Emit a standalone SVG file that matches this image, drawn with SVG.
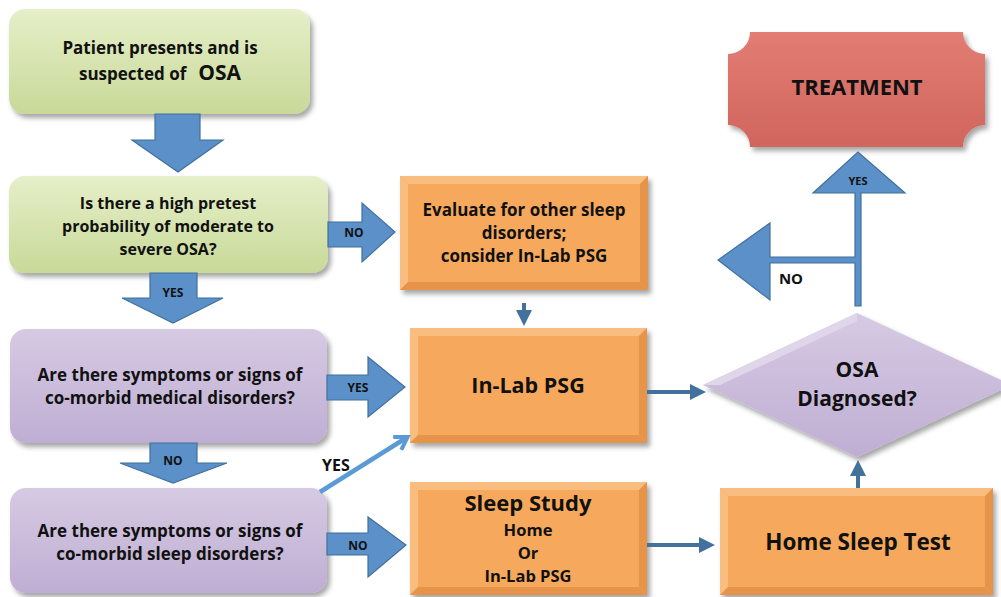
<svg xmlns="http://www.w3.org/2000/svg" width="1001" height="597" viewBox="0 0 1001 597">
<defs>
<linearGradient id="gGreen" x1="0" y1="0" x2="0" y2="1"><stop offset="0" stop-color="#e6efc9"/><stop offset="1" stop-color="#c8d998"/></linearGradient>
<linearGradient id="gPurple" x1="0" y1="0" x2="0" y2="1"><stop offset="0" stop-color="#d6cae3"/><stop offset="1" stop-color="#bfaed3"/></linearGradient>
<linearGradient id="gRed" x1="0" y1="0" x2="0" y2="1"><stop offset="0" stop-color="#e27d74"/><stop offset="1" stop-color="#d0655c"/></linearGradient>
<filter id="sh" x="-10%" y="-10%" width="125%" height="130%"><feDropShadow dx="3" dy="4" stdDeviation="2.5" flood-color="#000" flood-opacity="0.35"/></filter>
<marker id="ah" markerWidth="4" markerHeight="4" refX="2" refY="2" orient="auto" markerUnits="strokeWidth"><path d="M0,0 L4,2 L0,4 Z" fill="#41719c"/></marker>
<marker id="ahl" markerWidth="4" markerHeight="4" refX="2.6" refY="2" orient="auto" markerUnits="strokeWidth"><path d="M0.3,0.3 L3,2 L0.3,3.7" fill="none" stroke="#5b9bd5" stroke-width="0.9"/></marker>
</defs>
<style>
text{font-family:"Open Sans","Liberation Sans",Arial,sans-serif;font-weight:bold;fill:#111;text-anchor:middle}
.t17{font-size:16px}
.lbl{font-size:12px}
.green{fill:url(#gGreen);filter:url(#sh)}
.purple{fill:url(#gPurple);filter:url(#sh)}
.orange{fill:#f6a95c;filter:url(#sh)}
.bvL{fill:#f9bd80}
.bvD{fill:#e6944a}
.barrow{fill:#5b90c9;stroke:#41719c;stroke-width:1.2}
.conn{stroke:#41719c;stroke-width:4;fill:none}
.tline{fill:#5b90c9;stroke:#41719c;stroke-width:1.2}
</style>

<g id="node-patient">
<rect class="green" x="9" y="9" width="301" height="105" rx="16"/>
<text x="160" y="54" font-size="17">Patient presents and is</text>
<text x="160" y="80" font-size="17">suspected of<tspan font-size="21" dx="12">OSA</tspan></text>
</g>

<g id="node-pretest">
<rect class="green" x="9" y="176" width="319" height="97" rx="16"/>
<text class="t17" x="168" y="209" font-size="16.5">Is there a high pretest</text>
<text class="t17" x="168" y="232" font-size="16.5">probability of moderate to</text>
<text class="t17" x="168" y="255" font-size="16.5">severe OSA?</text>
</g>

<g id="node-medical">
<rect class="purple" x="10" y="329" width="317" height="114" rx="16"/>
<text x="170" y="381" font-size="17">Are there symptoms or signs of</text>
<text x="170" y="404" font-size="17">co-morbid medical disorders?</text>
</g>

<g id="node-sleepdis">
<rect class="purple" x="10" y="488" width="317" height="105" rx="16"/>
<text x="170" y="537" font-size="17">Are there symptoms or signs of</text>
<text x="170" y="560" font-size="17">co-morbid sleep disorders?</text>
</g>

<g id="node-evaluate">
<rect class="orange" x="400" y="176" width="248" height="114"/>
<polygon class="bvL" points="400,176 648,176 640,184 408,184"/>
<polygon class="bvL" points="400,176 408,184 408,282 400,290"/>
<polygon class="bvD" points="648,176 648,290 640,282 640,184"/>
<polygon class="bvD" points="400,290 648,290 640,282 408,282"/>
<text x="524" y="216" font-size="17">Evaluate for other sleep</text>
<text x="524" y="239" font-size="17">disorders;</text>
<text x="524" y="262" font-size="17">consider In-Lab PSG</text>
</g>

<g id="node-inlab">
<rect class="orange" x="410" y="328" width="237" height="115"/>
<polygon class="bvL" points="410,328 647,328 639,336 418,336"/>
<polygon class="bvL" points="410,328 418,336 418,435 410,443"/>
<polygon class="bvD" points="647,328 647,443 639,435 639,336"/>
<polygon class="bvD" points="410,443 647,443 639,435 418,435"/>
<text x="528" y="393" font-size="21.5">In-Lab PSG</text>
</g>

<g id="node-sleepstudy">
<rect class="orange" x="410" y="482" width="237" height="113"/>
<polygon class="bvL" points="410,482 647,482 639,490 418,490"/>
<polygon class="bvL" points="410,482 418,490 418,587 410,595"/>
<polygon class="bvD" points="647,482 647,595 639,587 639,490"/>
<polygon class="bvD" points="410,595 647,595 639,587 418,587"/>
<text x="528" y="511" font-size="22">Sleep Study</text>
<text x="528" y="536" font-size="16.5">Home</text>
<text x="528" y="559" font-size="16.5">Or</text>
<text x="528" y="582" font-size="16.5">In-Lab PSG</text>
</g>

<g id="node-home">
<rect class="orange" x="720" y="488" width="273" height="107"/>
<polygon class="bvL" points="720,488 993,488 985,496 728,496"/>
<polygon class="bvL" points="720,488 728,496 728,587 720,595"/>
<polygon class="bvD" points="993,488 993,595 985,587 985,496"/>
<polygon class="bvD" points="720,595 993,595 985,587 728,587"/>
<text x="858" y="550" font-size="22.5">Home Sleep Test</text>
</g>

<g id="node-diagnosed">
<polygon points="703,385 857,313 1012,385 857,457" fill="url(#gPurple)" filter="url(#sh)"/>
<polygon points="703,385 857,313 857,321 720,385" fill="#e0d6ea"/>
<text x="857" y="377" font-size="21">OSA</text>
<text x="857" y="406" font-size="21">Diagnosed?</text>
</g>

<g id="node-treatment">
<path d="M750,32 L963,32 A22,22 0 0 0 985,54 L985,125 A22,22 0 0 0 963,147 L750,147 A22,22 0 0 0 728,125 L728,54 A22,22 0 0 0 750,32 Z" fill="url(#gRed)" filter="url(#sh)"/>
<text x="857" y="95" font-size="22">TREATMENT</text>
</g>

<g id="connectors">
<path class="barrow" d="M155,114 L200,114 L200,140 L223,140 L178,172 L132,140 L155,140 Z"/>
<path class="barrow" d="M328,222 L362,222 L362,203 L395,232 L362,262 L362,247 L328,247 Z"/>
<text class="lbl" x="354" y="237">NO</text>
<path class="barrow" d="M150,273 L197,273 L197,298 L223,298 L173,323 L122,298 L150,298 Z"/>
<text class="lbl" x="173" y="297">YES</text>
<path class="barrow" d="M327,375 L368,375 L368,357 L405,387 L368,417 L368,400 L327,400 Z"/>
<text class="lbl" x="358" y="392">YES</text>
<path class="barrow" d="M150,443 L197,443 L197,463 L227,463 L173,483 L120,463 L150,463 Z"/>
<text class="lbl" x="173" y="465">NO</text>
<path class="barrow" d="M327,533 L368,533 L368,517 L406,545 L368,577 L368,555 L327,555 Z"/>
<text class="lbl" x="358" y="550">NO</text>
<line x1="320" y1="492" x2="406" y2="438" stroke="#5b9bd5" stroke-width="4.5" marker-end="url(#ahl)"/>
<text x="336" y="471" font-size="16">YES</text>
<line class="conn" x1="524" y1="303" x2="524" y2="318" stroke-width="5" marker-end="url(#ah)"/>
<line class="conn" x1="647" y1="392" x2="698" y2="392" marker-end="url(#ah)"/>
<line class="conn" x1="647" y1="545" x2="707" y2="545" marker-end="url(#ah)"/>
<line class="conn" x1="858" y1="488" x2="858" y2="468" stroke-width="5" marker-end="url(#ah)"/>
<path class="tline" d="M855,306 L855,263 L770,263 L770,300 L718,260 L770,223 L770,257 L855,257 L855,193 L813,193 L858,152 L905,193 L861,193 L861,306 Z"/>
<text x="858" y="185" font-size="11">YES</text>
<text x="791" y="284" font-size="15">NO</text>
</g>
</svg>
